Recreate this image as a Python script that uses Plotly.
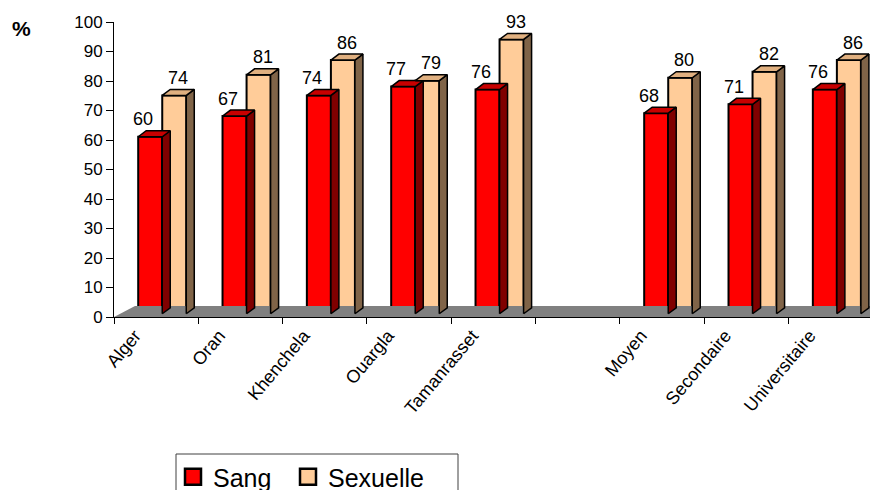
import plotly.graph_objects as go

categories = ["Alger", "Oran", "Khenchela", "Ouargla", "Tamanrasset", "",
              "Moyen", "Secondaire", "Universitaire"]
sang = [60, 67, 74, 77, 76, None, 68, 71, 76]
sexuelle = [74, 81, 86, 79, 93, None, 80, 82, 86]
y_ticks = list(range(0, 101, 10))

# page offset (browser body margin) and geometry in screen pixels
OFF = 8
W, H = 878 - OFF, 490 - OFF
ML, MR, MT = 114 - OFF, 0, 22 - OFF
MB = H - (317 - OFF)
pw = W - ML - MR
ph = H - MT - MB
x0 = -0.5
ux = 84.33            # px per category
xmax = x0 + pw / ux
uy = ph / 100.0       # px per unit


def px_x(sx):
    return (sx - OFF - ML) / pw


def px_y(sy):
    return (H - MB - (sy - OFF)) / ph


# 3D offsets (in data units)
base = 1.1
bw = 0.285
off_sang = -0.213
off_sex = off_sang + bw
ddx, ddy = 8 / ux, 6 / uy
fdx, fdy = 21 / ux, 11 / uy

RED, RED_TOP, RED_SIDE = "#FF0000", "#C80000", "#800000"
TAN, TAN_TOP, TAN_SIDE = "#FFCC99", "#E0B080", "#806448"

fig = go.Figure()

# floor
nC = len(categories)
fig.add_trace(go.Scatter(
    x=[x0, nC + x0, nC + x0 + fdx, x0 + fdx, x0],
    y=[0, 0, fdy, fdy, 0],
    fill="toself", fillcolor="#808080", mode="lines",
    line=dict(width=0, color="#808080"), hoverinfo="skip", showlegend=False))


def faces(vals, off):
    tx, ty, sx, sy = [], [], [], []
    for i, v in enumerate(vals):
        if v is None:
            continue
        l = i + off
        r = l + bw
        top = base + v
        tx += [l, r, r + ddx, l + ddx, l, None]
        ty += [top, top, top + ddy, top + ddy, top, None]
        sx += [r, r, r + ddx, r + ddx, r, None]
        sy += [base, top, top + ddy, base + ddy, base, None]
    return tx, ty, sx, sy


for vals, off, ctop, cside in [(sang, off_sang, RED_TOP, RED_SIDE),
                               (sexuelle, off_sex, TAN_TOP, TAN_SIDE)]:
    tx, ty, sx, sy = faces(vals, off)
    fig.add_trace(go.Scatter(x=sx, y=sy, fill="toself", fillcolor=cside,
                             mode="lines", line=dict(color="black", width=1.5),
                             hoverinfo="skip", showlegend=False))
    fig.add_trace(go.Scatter(x=tx, y=ty, fill="toself", fillcolor=ctop,
                             mode="lines", line=dict(color="black", width=1.5),
                             hoverinfo="skip", showlegend=False))

idx = list(range(nC))
for name, vals, off, col in [("Sang", sang, off_sang, RED),
                             ("Sexuelle", sexuelle, off_sex, TAN)]:
    fig.add_trace(go.Bar(x=idx, y=vals, base=base, width=bw, offset=off,
                         marker=dict(color=col, line=dict(color="black", width=2)),
                         showlegend=False, hoverinfo="skip"))

# data labels (annotations anchored at the bar top, shifted up in pixels)
lab_font = dict(family="Liberation Sans, Arial", size=18, color="black")
for vals, dxl in [(sang, off_sang + bw / 2 - 7 / ux),
                  (sexuelle, off_sex + bw / 2 + 4 / ux)]:
    for i, v in enumerate(vals):
        if v is None:
            continue
        fig.add_annotation(x=i + dxl, y=base + v, xref="x", yref="y",
                           yshift=17.5, text=str(v), showarrow=False, font=lab_font,
                           xanchor="center", yanchor="middle")

# legend entries (two legends to match the spacing)
for name, col, lg in [("Sang", RED, "legend"), ("Sexuelle", TAN, "legend2")]:
    fig.add_trace(go.Scatter(x=[None], y=[None], mode="markers", name=name,
                             legend=lg,
                             marker=dict(symbol="square", size=16, color=col,
                                         line=dict(color="black", width=2.5))))

fig.add_annotation(text="<b>%</b>", xref="paper", yref="paper",
                   x=px_x(21.5), y=px_y(28), xanchor="center", yanchor="middle",
                   showarrow=False,
                   font=dict(family="Liberation Sans, Arial", size=21, color="black"))

# legend frame
fig.add_shape(type="rect", xref="paper", yref="paper",
              x0=px_x(176), x1=px_x(458), y0=px_y(454), y1=px_y(500),
              line=dict(color="#404040", width=1), fillcolor="rgba(0,0,0,0)")

leg_common = dict(orientation="h", xanchor="left", yanchor="top", borderwidth=0,
                  font=dict(size=25), bgcolor="rgba(0,0,0,0)")

fig.update_layout(
    width=W, height=H,
    margin=dict(l=ML, r=MR, t=MT, b=MB, autoexpand=False),
    paper_bgcolor="white", plot_bgcolor="white",
    barmode="overlay",
    font=dict(family="Liberation Sans, Arial", color="black"),
    xaxis=dict(range=[x0, xmax], tickmode="array", tickvals=[i - 0.25 for i in idx],
               ticktext=categories,
               tickangle=-50, ticks="", showgrid=False, zeroline=False,
               showline=True, linecolor="black", linewidth=1,
               tickfont=dict(size=18),
               minor=dict(tickmode="linear", tick0=-0.5, dtick=1, ticks="outside",
                          ticklen=6, tickcolor="black", showgrid=False)),
    yaxis=dict(range=[0, 100], tickmode="array", tickvals=y_ticks,
               ticks="outside", ticklen=7, tickcolor="black",
               showgrid=False, zeroline=False, showline=True,
               linecolor="black", linewidth=1, tickfont=dict(size=17)),
    legend=dict(x=px_x(173), y=px_y(454), **leg_common),
    legend2=dict(x=px_x(288), y=px_y(454), **leg_common),
)

fig.write_html("out.html")
